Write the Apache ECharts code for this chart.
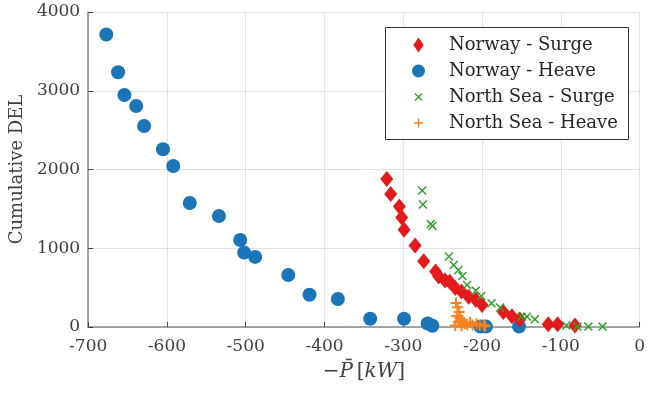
<!DOCTYPE html>
<html><head><meta charset="utf-8">
<script src="https://cdn.jsdelivr.net/npm/echarts@6/dist/echarts.min.js"></script>
<style>html,body{margin:0;padding:0;background:#fff}#c{width:648px;height:395px}</style>
</head><body><div id="c"></div>
<script>
const norwaySurge = [[-321,1880],[-316,1690],[-305,1530],[-302,1390],[-299,1235],[-285,1035],[-274,835],[-259,705],[-255,640],[-247,590],[-241,575],[-234,495],[-226,450],[-217,385],[-208,345],[-200,280],[-173,190],[-162,135],[-152,95],[-116,35],[-104,35],[-82,20]];
const norwayHeave = [[-677,3715],[-662,3235],[-654,2946],[-639,2806],[-629,2552],[-605,2257],[-592,2044],[-571,1575],[-534,1410],[-507,1105],[-502,945],[-488,890],[-446,660],[-419,410],[-383,355],[-342,105],[-299,105],[-269,45],[-263,15],[-202,5],[-195,5],[-153,5]];
const northSeaSurge = [[-276,1733],[-275,1556],[-265,1308],[-263,1283],[-242,895],[-236,787],[-230,724],[-225,648],[-219,533],[-208,461],[-201,394],[-188,301],[-177,248],[-150,131],[-143,131],[-133,98],[-93,19],[-79,5],[-65,5],[-47,5]];
const northSeaHeave = [[-233,305],[-231,250],[-229,190],[-232,140],[-228,110],[-230,60],[-234,20],[-225,90],[-222,45],[-219,30],[-215,60],[-212,25],[-207,40],[-203,20],[-198,25],[-196,10],[-226,15]];
const seriesNames = ['Norway - Surge','Norway - Heave','North Sea - Surge','North Sea - Heave'];
const xTicks = {min:-700, max:0, step:100};
const yTicks = {min:0, max:4000, step:1000};

const FONT = 'DejaVu Serif';
const plusPath = 'path://M4.1,0H5.9V4.1H10V5.9H5.9V10H4.1V5.9H0V4.1H4.1Z';
const xPath = 'path://M0,1.2L1.2,0L5,3.8L8.8,0L10,1.2L6.2,5L10,8.8L8.8,10L5,6.2L1.2,10L0,8.8L3.8,5Z';
const pad = 'M0,0L0.01,0L0,0.01ZM15,15L14.99,15L15,14.99Z';
const legDiamond = 'path://M7.5,0L12.7,7.5L7.5,15L2.3,7.5Z' + pad;
const legCircle = 'path://M7.5,1A6.5,6.5,0,1,1,7.49,1Z' + pad;
const legX = 'path://M3.5,4.5L4.5,3.5L7.5,6.5L10.5,3.5L11.5,4.5L8.5,7.5L11.5,10.5L10.5,11.5L7.5,8.5L4.5,11.5L3.5,10.5L6.5,7.5Z' + pad;
const legPlus = 'path://M6.8,3H8.2V6.8H12V8.2H8.2V12H6.8V8.2H3V6.8H6.8Z' + pad;

const chart = echarts.init(document.getElementById('c'));
chart.setOption({
  animation:false,
  backgroundColor:'#fff',
  textStyle:{fontFamily:FONT},
  grid:{left:87, right:6, top:12, bottom:68, containLabel:false},
  xAxis:{type:'value', min:xTicks.min, max:xTicks.max, interval:xTicks.step,
    axisLine:{show:true, onZero:false, lineStyle:{color:'#8a8a8a', width:1.5}},
    axisTick:{show:true, inside:true, length:5, lineStyle:{color:'#404040'}},
    splitLine:{show:true, lineStyle:{color:'#e3e3e3', width:1}},
    axisLabel:{color:'#404040', fontFamily:FONT, fontSize:17, margin:11},
    name:'{n|−}{i|P̄} {n|[}{i|kW}{n|]}', nameLocation:'middle', nameGap:35,
    nameTextStyle:{rich:{n:{fontFamily:FONT,fontSize:20,color:'#404040'}, i:{fontFamily:FONT,fontSize:20,fontStyle:'italic',color:'#404040'}}}
  },
  yAxis:{type:'value', min:yTicks.min, max:yTicks.max, interval:yTicks.step,
    axisLine:{show:true, onZero:false, lineStyle:{color:'#8a8a8a', width:1.5}},
    axisTick:{show:true, inside:true, length:5, lineStyle:{color:'#404040'}},
    splitLine:{show:true, lineStyle:{color:'#e3e3e3', width:1}},
    axisLabel:{color:'#404040', fontFamily:FONT, fontSize:17, margin:8, formatter:function(v){return String(v);}},
    name:'Cumulative DEL', nameLocation:'middle', nameGap:62,
    nameTextStyle:{fontFamily:FONT, fontSize:18, color:'#404040'}
  },
  graphic:[{type:'rect', left:385, top:27, z:5, shape:{width:243, height:112},
    style:{fill:'#fff', stroke:'#333', lineWidth:1}}],
  legend:{left:411, top:36, orient:'vertical', padding:0, itemWidth:15, itemHeight:15, itemGap:8, z:10,
    textStyle:{fontFamily:FONT, fontSize:18, color:'#262626', padding:[0,0,0,18]},
    data:[{name:seriesNames[0], icon:legDiamond},{name:seriesNames[1], icon:legCircle},{name:seriesNames[2], icon:legX},{name:seriesNames[3], icon:legPlus}]
  },
  series:[
    {name:seriesNames[1], type:'scatter', data:norwayHeave, symbol:'circle', symbolSize:14, itemStyle:{color:'#1a75b8', opacity:1}, z:2},
    {name:seriesNames[0], type:'scatter', data:norwaySurge, symbol:'diamond', symbolSize:[13,16], itemStyle:{color:'#e41a1c', opacity:1}, z:3},
    {name:seriesNames[2], type:'scatter', data:northSeaSurge, symbol:xPath, symbolSize:9, itemStyle:{color:'#33a02c', opacity:1}, z:4},
    {name:seriesNames[3], type:'scatter', data:northSeaHeave, symbol:plusPath, symbolSize:11, itemStyle:{color:'#f7821f', opacity:1}, z:4}
  ]
});
</script></body></html>
